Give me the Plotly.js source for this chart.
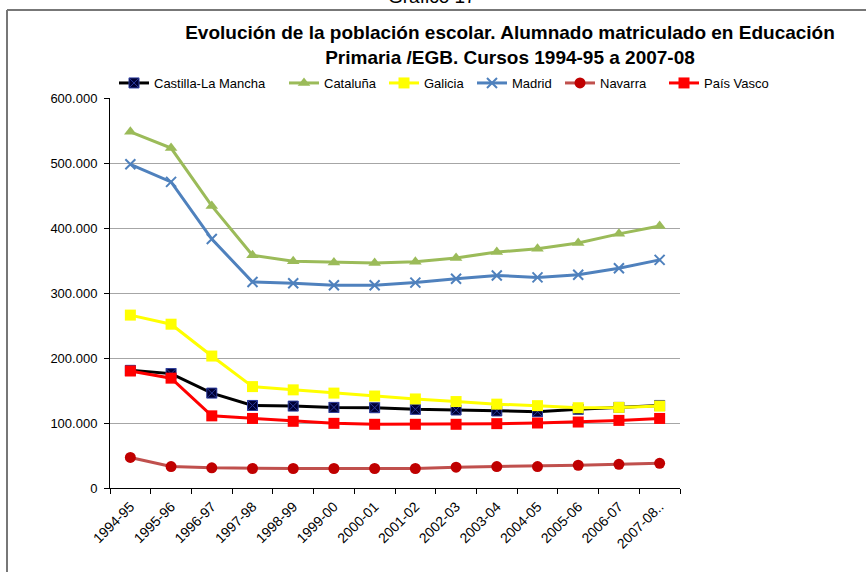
<!DOCTYPE html>
<html>
<head>
<meta charset="utf-8">
<script src="https://cdn.plot.ly/plotly-3.0.1.min.js"></script>
<style>
  html, body { margin: 0; padding: 0; background: #fff; }
  #chart { width: 866px; height: 572px; }
</style>
</head>
<body>
<div id="chart"></div>
<script>
const cursos = ["1994-95","1995-96","1996-97","1997-98","1998-99","1999-00","2000-01","2001-02","2002-03","2003-04","2004-05","2005-06","2006-07","2007-08.."];
const castillaLaMancha = [181000,176000,146000,127000,126000,124000,123500,121000,120000,118500,117500,121000,124000,127000];
const cataluna = [548000,523000,434000,358000,349000,347000,346000,348000,354000,363000,368000,377000,391000,403000];
const galicia = [266000,252000,203000,156000,151000,146000,141500,137000,133000,129000,126700,123500,124000,126000];
const madrid = [498000,471000,383000,317000,315000,312000,312000,316000,322000,327000,324000,328000,338000,351000];
const navarra = [47000,33000,31000,30000,30000,30000,30000,30000,32000,33000,33000,35000,36500,38000];
const paisVasco = [180000,169000,111000,107000,102600,99500,98000,98000,98000,99000,100000,101500,104000,107000];
const yTicks = [0,100000,200000,300000,400000,500000,600000];

const FONT = '"Liberation Sans", Arial, sans-serif';

const L = 110, R = 680, T = 98, B = 488, W = 866, H = 572;
const pw = R - L, ph = B - T;
const px = v => (v - L) / pw;
const py = v => (B - v) / ph;

function serie(name, y, lineColor, marker, legendId) {
  return {
    type: 'scatter', mode: 'lines+markers', name: name,
    x: cursos, y: y,
    line: { color: lineColor, width: 3 },
    marker: marker,
    legend: legendId,
    hoverinfo: 'x+y+name'
  };
}

const data = [
  serie('Castilla-La Mancha', castillaLaMancha, '#000000',
        { symbol: 'square-x', size: 10, color: '#000033', line: { color: '#2a3a9a', width: 1 } }, 'legend'),
  serie('Cataluña', cataluna, '#9BBB59',
        { symbol: 'triangle-up', size: 11, color: '#9BBB59', line: { width: 0 } }, 'legend2'),
  serie('Galicia', galicia, '#FFFF00',
        { symbol: 'square', size: 11, color: '#FFFF00', line: { width: 0 } }, 'legend3'),
  serie('Madrid', madrid, '#4F81BD',
        { symbol: 'x-thin', size: 10, color: '#4F81BD', line: { color: '#4F81BD', width: 2 } }, 'legend4'),
  serie('Navarra', navarra, '#C0504D',
        { symbol: 'circle', size: 11, color: '#C00000', line: { width: 0 } }, 'legend5'),
  serie('País Vasco', paisVasco, '#FF0000',
        { symbol: 'square', size: 11, color: '#FF0000', line: { width: 0 } }, 'legend6')
];

function leg(xPix) {
  return {
    orientation: 'h',
    x: px(xPix), xanchor: 'left',
    y: py(83), yanchor: 'middle',
    font: { family: FONT, size: 13, color: '#000000' },
    bgcolor: 'rgba(0,0,0,0)',
    itemwidth: 30
  };
}

const layout = {
  width: W, height: H,
  margin: { l: L, r: W - R, t: T, b: H - B, pad: 0 },
  paper_bgcolor: '#ffffff',
  plot_bgcolor: '#ffffff',
  font: { family: FONT, size: 13, color: '#000000' },
  separators: ',.',
  title: {
    text: '<b>Evolución de la población escolar. Alumnado matriculado en Educación<br>Primaria /EGB. Cursos 1994-95 a 2007-08</b>',
    font: { family: FONT, size: 19, color: '#000000' },
    xref: 'paper', x: px(510), xanchor: 'center',
    yref: 'container', y: 1 - 39 / H, yanchor: 'middle'
  },
  showlegend: true,
  legend: leg(114),
  legend2: leg(284),
  legend3: leg(384),
  legend4: leg(472),
  legend5: leg(560),
  legend6: leg(664),
  xaxis: {
    type: 'category',
    range: [-0.5, cursos.length - 0.5],
    showline: true, linecolor: '#000000', linewidth: 1,
    ticks: 'outside', tickson: 'boundaries', ticklen: 5, tickcolor: '#000000',
    tickangle: -45,
    ticklabelstandoff: 4,
    tickfont: { family: FONT, size: 14, color: '#000000' },
    showgrid: false, zeroline: false,
    fixedrange: true
  },
  yaxis: {
    range: [0, 600000],
    tickvals: yTicks,
    tickformat: ',d',
    showline: true, linecolor: '#000000', linewidth: 1,
    ticks: 'outside', ticklen: 5, tickcolor: '#000000',
    ticklabelstandoff: 4,
    tickfont: { family: FONT, size: 13, color: '#000000' },
    showgrid: true, gridcolor: '#a6a6a6', gridwidth: 1,
    zeroline: false,
    fixedrange: true
  },
  shapes: [
    { type: 'line', xref: 'paper', yref: 'paper', x0: px(7), x1: px(W + 5), y0: py(10), y1: py(10),
      line: { color: '#777777', width: 2 } },
    { type: 'line', xref: 'paper', yref: 'paper', x0: px(7), x1: px(7), y0: py(10), y1: py(H + 5),
      line: { color: '#777777', width: 2 } }
  ],
  annotations: [
    { text: 'Gráfico 17', xref: 'paper', yref: 'paper', x: px(432), y: py(-4),
      xanchor: 'center', yanchor: 'middle', showarrow: false,
      font: { family: FONT, size: 19, color: '#000000' } }
  ]
};

Plotly.newPlot('chart', data, layout, { displayModeBar: false, staticPlot: true });
</script>
</body>
</html>
